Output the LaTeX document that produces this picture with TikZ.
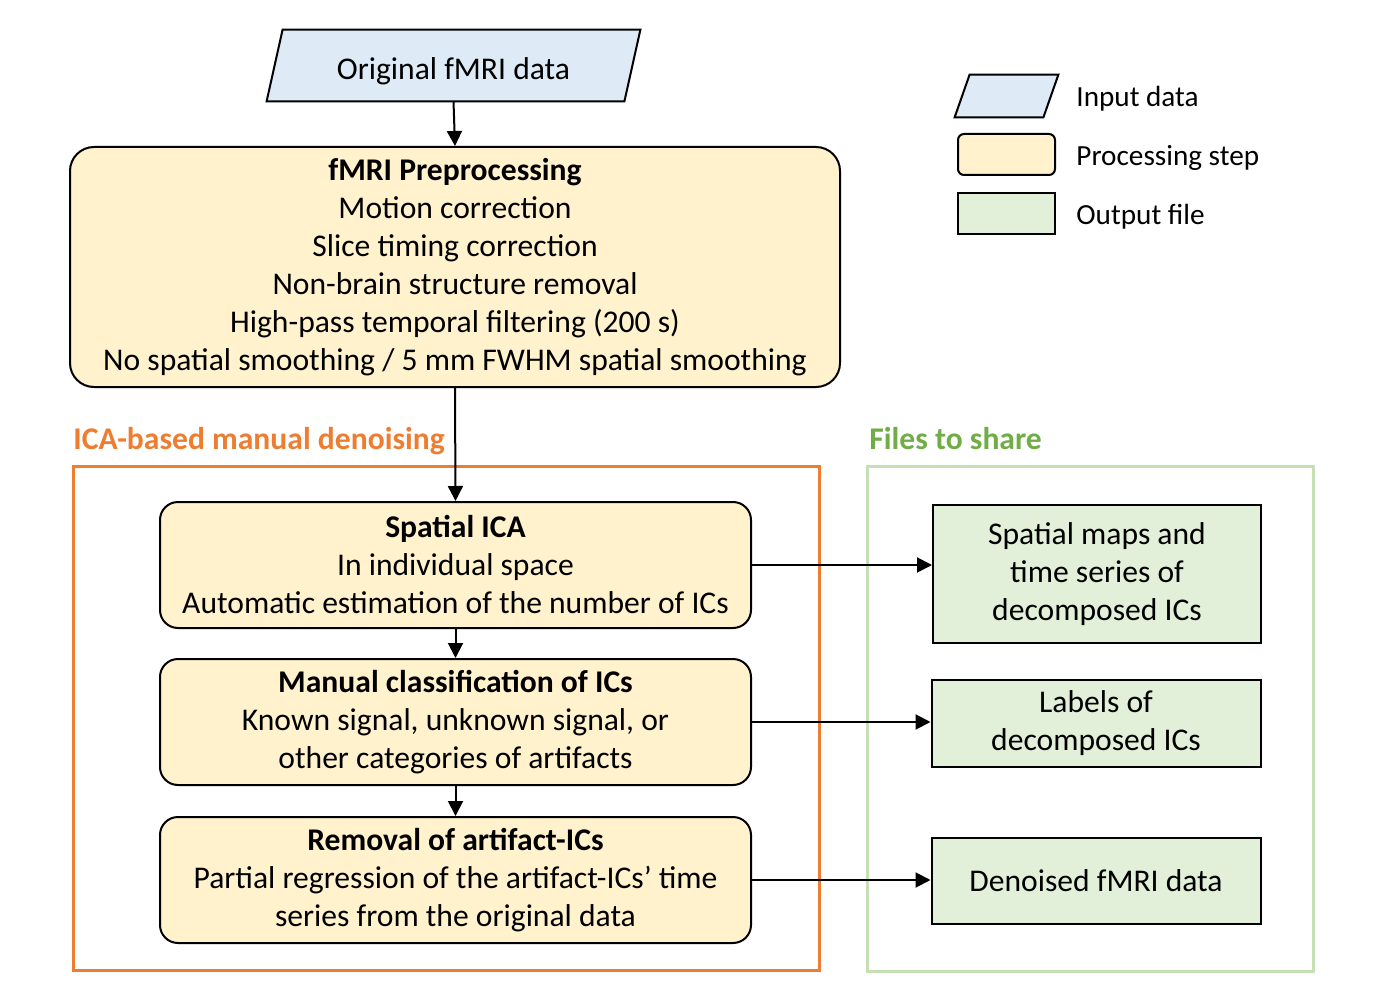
\documentclass[tikz,border=0pt]{standalone}
\usepackage{fontspec}
\setmainfont{Carlito}
\usetikzlibrary{arrows.meta}
\definecolor{inblue}{HTML}{DEEBF7}
\definecolor{procyellow}{HTML}{FFF2CC}
\definecolor{outgreen}{HTML}{E2F0D9}
\definecolor{frameorange}{HTML}{ED7D31}
\definecolor{framegreen}{HTML}{C5E0B4}
\definecolor{labelgreen}{HTML}{70AD47}
\tikzset{
  basetext/.style={font=\fontsize{15.8pt}{19pt}\selectfont, align=center, inner sep=0pt},
  procbox/.style={basetext, draw=black, line width=1pt, fill=procyellow, rounded corners=9pt},
  outbox/.style={basetext, draw=black, line width=1pt, fill=outgreen},
  conn/.style={line width=1pt, -{Triangle[length=7.5pt,width=7.5pt]}},
  framebox/.style={line width=1.5pt},
  framelabel/.style={font=\fontsize{15.8pt}{19pt}\selectfont\bfseries, anchor=base west, inner sep=0pt},
  legtext/.style={basetext, font=\fontsize{14.6pt}{18pt}\selectfont, anchor=base west}
}
\begin{document}
\begin{tikzpicture}[x=0.5pt, y=-0.5pt]
\useasboundingbox (0,0) rectangle (1382,1006);

% frames
\draw[framebox, draw=frameorange] (73,466) rectangle (819,970);
\draw[framebox, draw=framegreen] (867,466) rectangle (1313,971);
\node[framelabel, text=frameorange] (lab1) at (73,449) {ICA-based manual denoising};
\node[framelabel, text=labelgreen] (lab2) at (869,449) {Files to share};

% input parallelogram
\node[basetext, minimum width=186.5pt, minimum height=35.5pt] (in) at (453.5,65.5) {};
\draw[line width=1pt, fill=inblue] (in.south west) -- ([xshift=-8pt]in.south east) -- (in.north east) -- ([xshift=8pt]in.north west) -- cycle;
\node[basetext, anchor=base] (intext) at (453.5,80) {Original fMRI data};

% preprocessing
\node[procbox, rounded corners=12pt, minimum width=385pt, minimum height=120pt] (pre) at (455,267)
  {\textbf{fMRI Preprocessing}\\Motion correction\\Slice timing correction\\Non-brain structure removal\\High-pass temporal filtering (200 s)\\No spatial smoothing / 5 mm FWHM spatial smoothing};

% processing steps
\node[procbox, minimum width=295.5pt, minimum height=63pt] (ica) at (455.5,565)
  {\textbf{Spatial ICA}\\In individual space\\Automatic estimation of the number of ICs};
\node[procbox, minimum width=295.5pt, minimum height=63pt] (cls) at (455.5,722)
  {\textbf{Manual classification of ICs}\\Known signal, unknown signal, or\\other categories of artifacts};
\node[procbox, minimum width=295.5pt, minimum height=63pt] (rem) at (455.5,880)
  {\textbf{Removal of artifact-ICs}\\Partial regression of the artifact-ICs' time\\series from the original data};

% outputs
\node[outbox, minimum width=164pt, minimum height=69pt] (o1) at (1097,574)
  {Spatial maps and\\time series of\\decomposed ICs};
\node[outbox, minimum width=164.5pt, minimum height=43.5pt] (o2) at (1096,723.5)
  {Labels of\\decomposed ICs};
\node[outbox, minimum width=164.5pt, minimum height=43pt] (o3) at (1096,881)
  {Denoised fMRI data};

% connectors
\draw[conn] (in.south) -- (pre.north);
\draw[conn] (pre.south) -- (ica.north);
\draw[conn] (ica.south) -- (cls.north);
\draw[conn] (cls.south) -- (rem.north);
\draw[conn] (ica.east) -- (ica.east -| o1.west);
\draw[conn] (cls.east) -- (cls.east -| o2.west);
\draw[conn] (rem.east) -- (rem.east -| o3.west);

% legend
\node[basetext, minimum width=51.5pt, minimum height=21pt] (lin) at (1006.5,96) {};
\draw[line width=1pt, fill=inblue] (lin.south west) -- ([xshift=-7.5pt]lin.south east) -- (lin.north east) -- ([xshift=7.5pt]lin.north west) -- cycle;
\node[procbox, rounded corners=3pt, minimum width=48.5pt, minimum height=20.5pt] (lproc) at (1006.5,154.5) {};
\node[outbox, minimum width=48.5pt, minimum height=20.5pt] (lout) at (1006.5,213.5) {};
\node[legtext] (tin) at (1076,107) {Input data};
\node[legtext] (tproc) at (1076,165) {Processing step};
\node[legtext] (tout) at (1076,224) {Output file};
\end{tikzpicture}
\end{document}
